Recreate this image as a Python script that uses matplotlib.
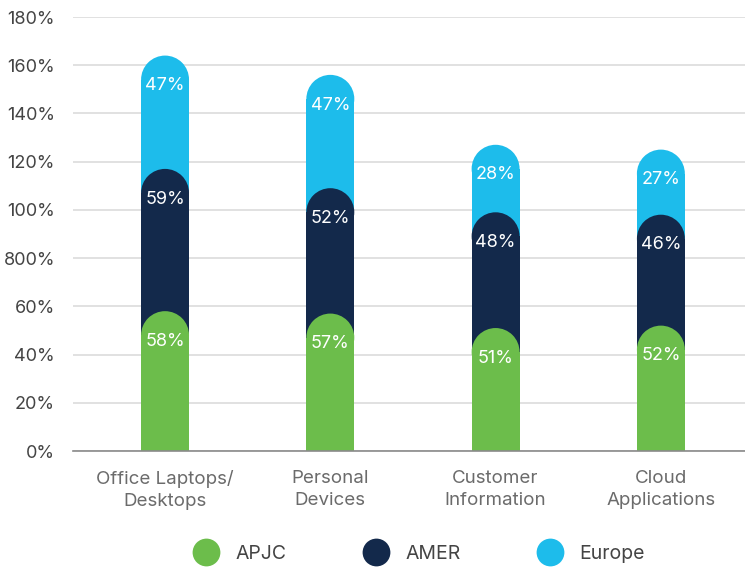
import matplotlib
matplotlib.use("Agg")
import matplotlib.pyplot as plt
from matplotlib.patches import Rectangle, Ellipse
from matplotlib.lines import Line2D
import numpy as np

categories = ["Office Laptops/\nDesktops", "Personal\nDevices", "Customer\nInformation", "Cloud\nApplications"]
series_names = ["APJC", "AMER", "Europe"]
apjc = [58, 57, 51, 52]
amer = [59, 52, 48, 46]
europe = [47, 47, 28, 27]
ytick_values = [0, 20, 40, 60, 80, 100, 120, 140, 160, 180]
ytick_labels = ["0%", "20%", "40%", "60%", "800%", "100%", "120%", "140%", "160%", "180%"]

colors = ["#6cbd4b", "#13294b", "#1dbceb"]
plt.rcParams['font.family'] = ['Inter', 'DejaVu Sans']

W, H = 745, 569
fig = plt.figure(figsize=(W / 100, H / 100), dpi=100)
ax_left, ax_right, ax_top, ax_bot = 73, 745, 17, 451
ax = fig.add_axes([ax_left / W, 1 - ax_bot / H, (ax_right - ax_left) / W, (ax_bot - ax_top) / H])
ax.set_ylim(0, 180)
ax.set_xlim(-0.557, 3.509)

x = np.arange(len(categories))
bar_w = 0.29
# vertical radius in data units, so that caps are round in pixels
px_per_x = (ax_right - ax_left) / (3.509 + 0.557)
px_per_y = (ax_bot - ax_top) / 180
r_px = bar_w * px_per_x / 2
r_y = r_px / px_per_y

data = [apjc, amer, europe]
cum = np.cumsum(np.array(data), axis=0)

for si in reversed(range(3)):
    for ci in range(len(categories)):
        top = cum[si][ci]
        z = 5 - si
        ax.add_patch(Rectangle((x[ci] - bar_w / 2, 0), bar_w, top - r_y,
                               facecolor=colors[si], edgecolor="none", zorder=z))
        ax.add_patch(Ellipse((x[ci], top - r_y), bar_w, 2 * r_y,
                             facecolor=colors[si], edgecolor="none", zorder=z))
        ax.text(x[ci], top - 12.5, f"{data[si][ci]}%", ha="center", va="center",
                color="white", fontsize=13, zorder=10)

ax.set_yticks(ytick_values)
ax.set_yticklabels(ytick_labels, fontsize=13, color="#444444")
ax.set_xticks(x)
ax.set_xticklabels(categories, fontsize=13.5, color="#6b6b6b", linespacing=1.38)
ax.tick_params(axis="both", length=0)
ax.tick_params(axis="y", pad=13)
ax.tick_params(axis="x", pad=14)
ax.grid(axis="y", color="#dcdcdc", linewidth=1.2, zorder=0)
ax.set_axisbelow(True)
for s in ["top", "right", "left"]:
    ax.spines[s].set_visible(False)
ax.spines["bottom"].set_color("#8a8a8a")
ax.spines["bottom"].set_linewidth(1.2)
ax.spines["bottom"].set_zorder(20)

handles = [Line2D([], [], marker="o", linestyle="none", markersize=20,
                  markerfacecolor=c, markeredgecolor="none") for c in colors]
fig.legend(handles, series_names, loc="center", bbox_to_anchor=(0.558, 1 - 554 / H),
           ncol=3, frameon=False, fontsize=14, handletextpad=0.5, columnspacing=3.6,
           labelcolor="#444444")

fig.savefig("out.png", dpi=100)
